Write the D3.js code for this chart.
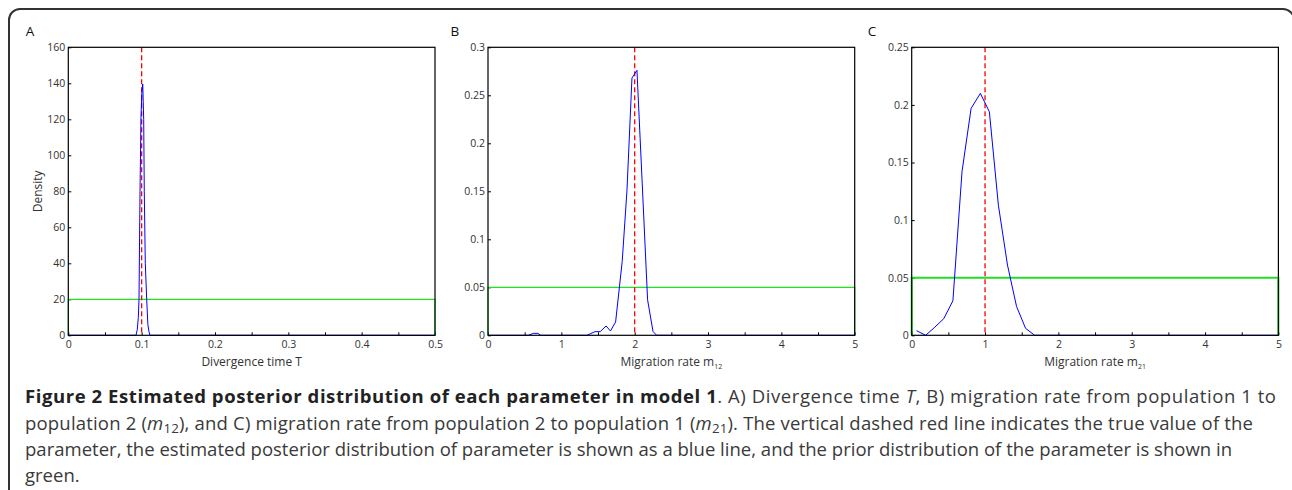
<!DOCTYPE html>
<html>
<head>
<script src="https://d3js.org/d3.v7.min.js"></script>
<style>
body { margin: 0; background: #fff; }
svg text { font-family: "Open Sans", sans-serif; fill: #333; }
.tick text { font-size: 10.5px; fill: #333; }
.tick line { stroke: #000; }
.plotFrame { fill: none; stroke: #000; stroke-width: 1.2px; }
.posterior { fill: none; stroke: #0000ff; stroke-width: 1px; }
.prior { fill: none; stroke: #22e022; }
.truth { stroke: #ff0000; stroke-width: 1.3px; stroke-dasharray: 5,3; }
</style>
</head>
<body>
<svg id="fig" width=1292 height=490></svg>
<script>
// Panel A: divergence time T
const timeT = [0, 0.0923, 0.0940, 0.0955, 0.0964, 0.0978, 0.0991, 0.1003, 0.1015, 0.1028, 0.1036, 0.1050, 0.1069, 0.1085, 0.1100, 0.1114, 0.5];
const densityT = [0, 0, 3, 10, 20, 80, 121, 135, 139.6, 120, 80, 40, 20, 6, 2, 0, 0];

// Panel B: migration rate m12
const rateM12 = [0, 0.55, 0.62, 0.68, 0.72, 1.35, 1.46, 1.53, 1.61, 1.67, 1.74, 1.83, 1.895, 1.963, 2.031, 2.10, 2.176, 2.25, 2.30, 5];
const densityM12 = [0, 0, 0.002, 0.002, 0, 0, 0.0038, 0.0038, 0.0097, 0.0045, 0.0139, 0.077, 0.151, 0.268, 0.276, 0.163, 0.037, 0.004, 0, 0];

// Panel C: migration rate m21
const rateM21 = [0.066, 0.19, 0.314, 0.438, 0.562, 0.686, 0.81, 0.936, 1.059, 1.182, 1.306, 1.43, 1.553, 1.677, 5];
const densityM21 = [0.004, 0, 0.007, 0.0145, 0.030, 0.142, 0.197, 0.210, 0.194, 0.113, 0.061, 0.025, 0.006, 0, 0];

const panelLabels = ["A", "B", "C"];
const trueValues = [0.1, 2, 1];
const priorDensity = [20, 0.05, 0.05];
const xMax = [0.5, 5, 5];
const yMax = [160, 0.3, 0.25];
const xTicksA = [0, 0.05, 0.1, 0.15, 0.2, 0.25, 0.3, 0.35, 0.4, 0.45, 0.5];
const xLabelsA = [0, 0.1, 0.2, 0.3, 0.4, 0.5];
const xTicksBC = [0, 0.5, 1, 1.5, 2, 2.5, 3, 3.5, 4, 4.5, 5];
const xLabelsBC = [0, 1, 2, 3, 4, 5];
const yTicksA = [0, 20, 40, 60, 80, 100, 120, 140, 160];
const yTicksB = [0, 0.05, 0.1, 0.15, 0.2, 0.25, 0.3];
const yTicksC = [0, 0.05, 0.1, 0.15, 0.2, 0.25];

const panels = [
    {x: timeT, y: densityT, xTicks: xTicksA, xLabels: xLabelsA, yTicks: yTicksA,
     title: [{t: "Divergence time T"}], yTitle: "Density", priorWidth: 1.2},
    {x: rateM12, y: densityM12, xTicks: xTicksBC, xLabels: xLabelsBC, yTicks: yTicksB,
     title: [{t: "Migration rate m"}, {t: "12", sub: true}], yTitle: null, priorWidth: 1.2},
    {x: rateM21, y: densityM21, xTicks: xTicksBC, xLabels: xLabelsBC, yTicks: yTicksC,
     title: [{t: "Migration rate m"}, {t: "21", sub: true}], yTitle: null, priorWidth: 2}
];

const svg = d3.select("svg#fig");

// outer rounded frame
svg.append("rect")
   .attr("x", 9).attr("y", 9)
   .attr("width", 1285).attr("height", 520)
   .attr("rx", 11)
   .attr("fill", "none")
   .attr("stroke", "#333")
   .attr("stroke-width", 2);

const plotLefts = [68.3, 488, 911.7];
const plotW = 366.7;
const plotTop = 47.3;
const plotBottom = 335.3;

panels.forEach((p, i) => {
    const g = svg.append("g")
                 .attr("transform", `translate(${plotLefts[i]}, 0)`);

    const x = d3.scaleLinear().domain([0, xMax[i]]).range([0, plotW]);
    const y = d3.scaleLinear().domain([0, yMax[i]]).range([plotBottom, plotTop]);

    // panel letter
    svg.append("text")
       .attr("x", plotLefts[i] - (i == 0 ? 42.5 : (i == 1 ? 37.5 : 44)))
       .attr("y", 36)
       .style("font-size", "13.5px")
       .style("fill", "#111")
       .text(panelLabels[i]);

    // bottom axis, ticks inward
    const xAxis = d3.axisBottom(x)
                    .tickValues(p.xTicks)
                    .tickSize(-3)
                    .tickPadding(5)
                    .tickFormat(d => p.xLabels.includes(d) ? d : "");
    g.append("g")
     .attr("transform", `translate(0, ${plotBottom})`)
     .call(xAxis)
     .call(a => a.select(".domain").remove());

    // left axis, ticks inward
    const yAxis = d3.axisLeft(y)
                    .tickValues(p.yTicks)
                    .tickSize(-3)
                    .tickPadding(3)
                    .tickFormat(d => d);
    g.append("g")
     .call(yAxis)
     .call(a => a.select(".domain").remove());

    // prior (uniform) distribution
    const priorLine = d3.line().x(d => x(d[0])).y(d => y(d[1]));
    g.append("path")
     .datum([[0, 0], [0, priorDensity[i]], [xMax[i], priorDensity[i]], [xMax[i], 0]])
     .attr("class", "prior")
     .style("stroke-width", p.priorWidth)
     .attr("d", priorLine);

    // true value
    g.append("line")
     .attr("class", "truth")
     .attr("x1", x(trueValues[i])).attr("x2", x(trueValues[i]))
     .attr("y1", plotTop).attr("y2", plotBottom);

    // posterior
    const line = d3.line()
                   .x((d, k) => x(p.x[k]))
                   .y(d => y(d));
    g.append("path")
     .datum(p.y)
     .attr("class", "posterior")
     .attr("d", line);

    // plot box
    g.append("rect")
     .attr("class", "plotFrame")
     .attr("x", 0).attr("y", plotTop)
     .attr("width", plotW).attr("height", plotBottom - plotTop);

    // x axis title
    const xt = g.append("text")
                .attr("x", plotW / 2)
                .attr("y", 366)
                .attr("text-anchor", "middle")
                .style("font-size", "12px");
    p.title.forEach(s => {
        if (s.sub) {
            xt.append("tspan").attr("dy", 3).style("font-size", "7px").text(s.t);
        } else {
            xt.append("tspan").text(s.t);
        }
    });

    if (p.yTitle) {
        g.append("text")
         .attr("transform", `translate(-26, ${(plotTop + plotBottom) / 2}) rotate(-90)`)
         .attr("text-anchor", "middle")
         .style("font-size", "12px")
         .text(p.yTitle);
    }
});

// caption
const captionLines = [
    [{t: "Figure 2 Estimated posterior distribution of each parameter in model 1", b: true},
     {t: ". A) Divergence time "}, {t: "T", i: true}, {t: ", B) migration rate from population 1 to"}],
    [{t: "population 2 ("}, {t: "m", i: true}, {t: "12", sub: true},
     {t: "), and C) migration rate from population 2 to population 1 ("}, {t: "m", i: true}, {t: "21", sub: true},
     {t: "). The vertical dashed red line indicates the true value of the"}],
    [{t: "parameter, the estimated posterior distribution of parameter is shown as a blue line, and the prior distribution of the parameter is shown in"}],
    [{t: "green."}]
];
// right ends of each line in the reference (last line is left natural)
const captionWidths = [1251, 1228, 1207, null];
const captionBaselines = [403, 429.5, 456, 482];
const captionX = 25;

function drawLine(segs, yPos, fs) {
    const t = svg.append("text")
                 .attr("x", captionX)
                 .attr("y", yPos)
                 .style("font-size", fs + "px")
                 .style("fill", "#3a3a3a");
    let shift = 0;
    segs.forEach(s => {
        const ts = t.append("tspan").text(s.t);
        if (s.sub) {
            ts.attr("dy", fs * 0.2).style("font-size", (fs * 0.72) + "px");
            shift = fs * 0.2;
        } else if (shift) {
            ts.attr("dy", -shift);
            shift = 0;
        }
        if (s.b) ts.style("font-weight", "bold").style("fill", "#222");
        if (s.i) ts.style("font-style", "italic");
    });
    return t;
}

// pick the largest size at which every line fits its reference width
let captionSize = 100;
captionLines.forEach((segs, k) => {
    if (!captionWidths[k]) return;
    const probe = drawLine(segs, captionBaselines[k], 17);
    const natural = probe.node().getComputedTextLength();
    probe.remove();
    captionSize = Math.min(captionSize, 17 * captionWidths[k] / natural);
});

captionLines.forEach((segs, k) => {
    const t = drawLine(segs, captionBaselines[k], captionSize);
    if (captionWidths[k]) {
        t.attr("textLength", captionWidths[k]).attr("lengthAdjust", "spacing");
    }
});
</script>
</body>
</html>
